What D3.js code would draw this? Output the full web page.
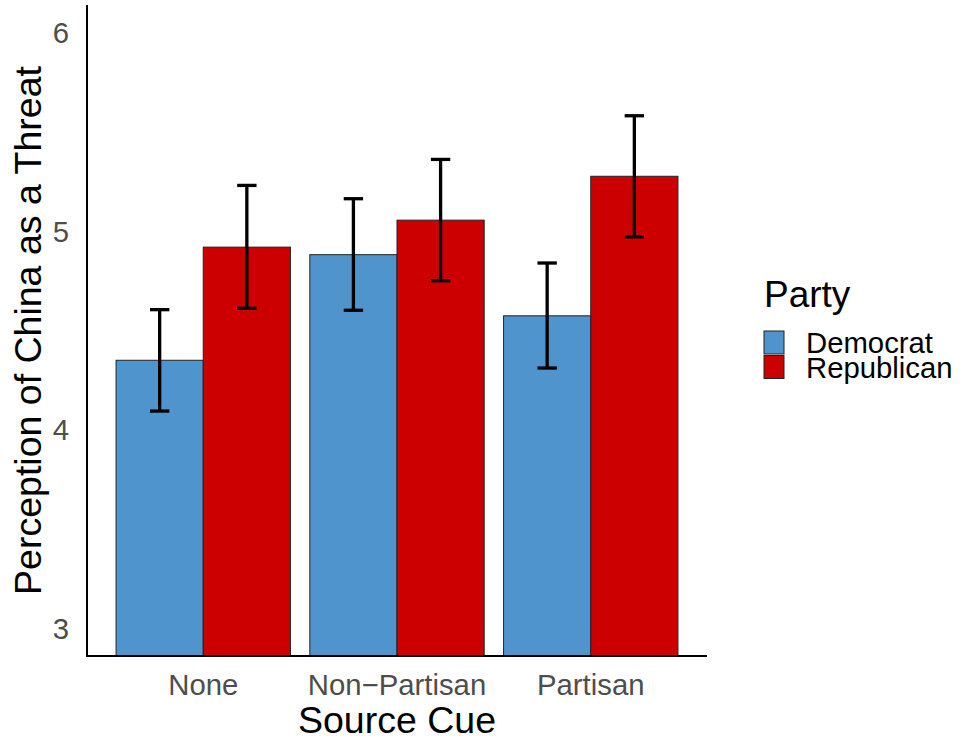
<!DOCTYPE html>
<html>
<head>
<meta charset="utf-8">
<script src="https://cdn.jsdelivr.net/npm/d3@7"></script>
<style>
  html, body { margin: 0; padding: 0; background: #fff; }
  svg { display: block; font-family: "Liberation Sans", Arial, sans-serif; }
</style>
</head>
<body>
<svg id="chart" width="961" height="742"></svg>
<script>
// ---- data ----
const categories = ["None", "Non\u2212Partisan", "Partisan"];
const parties = ["Democrat", "Republican"];
const democratMean = [4.354, 4.886, 4.578];
const republicanMean = [4.924, 5.060, 5.281];
const democratLow = [4.098, 4.606, 4.315];
const democratHigh = [4.609, 5.168, 4.844];
const republicanLow = [4.616, 4.755, 4.976];
const republicanHigh = [5.235, 5.366, 5.586];
const yTicks = [3, 4, 5, 6];

const colors = { Democrat: "#4F94CD", Republican: "#CD0000" };

const rows = [];
categories.forEach((c, i) => {
  rows.push({ cat: c, party: "Democrat", mean: democratMean[i], lo: democratLow[i], hi: democratHigh[i] });
  rows.push({ cat: c, party: "Republican", mean: republicanMean[i], lo: republicanLow[i], hi: republicanHigh[i] });
});

const svg = d3.select("#chart");
const pLeft = 87, pRight = 707, pTop = 5, pBottom = 656;

const x = d3.scaleBand().domain(categories).range([pLeft, pRight]).paddingInner(0.1).paddingOuter(0.15);
const xInner = d3.scaleBand().domain(parties).range([0, x.bandwidth()]).padding(0);
const y = d3.scaleLinear().domain([2.864, 6.144]).range([pBottom, pTop]);

// bars
svg.append("g").selectAll("rect").data(rows).join("rect")
  .attr("x", d => x(d.cat) + xInner(d.party))
  .attr("y", d => y(d.mean))
  .attr("width", xInner.bandwidth())
  .attr("height", d => pBottom - y(d.mean))
  .attr("fill", d => colors[d.party])
  .attr("stroke", "#222")
  .attr("stroke-width", 1);

// error bars
const capHalf = x.step() * 0.05;
const eb = svg.append("g").attr("stroke", "#000").attr("stroke-width", 3.3).attr("fill", "none");
rows.forEach(d => {
  const cx = x(d.cat) + xInner(d.party) + xInner.bandwidth() / 2;
  eb.append("line").attr("x1", cx).attr("x2", cx).attr("y1", y(d.hi)).attr("y2", y(d.lo));
  eb.append("line").attr("x1", cx - capHalf).attr("x2", cx + capHalf).attr("y1", y(d.hi)).attr("y2", y(d.hi));
  eb.append("line").attr("x1", cx - capHalf).attr("x2", cx + capHalf).attr("y1", y(d.lo)).attr("y2", y(d.lo));
});

// axes
const yAxis = svg.append("g").attr("transform", `translate(${pLeft},0)`)
  .call(d3.axisLeft(y).tickValues(yTicks).tickFormat(d3.format("d")).tickSize(0).tickPadding(18));
yAxis.select(".domain").remove();
yAxis.selectAll("text").attr("font-size", "29.3px").attr("fill", "#4D4D4D").attr("font-family", "Liberation Sans, Arial, sans-serif");

const xAxis = svg.append("g").attr("transform", `translate(0,${pBottom})`)
  .call(d3.axisBottom(x).tickSize(0).tickPadding(18));
xAxis.select(".domain").remove();
xAxis.selectAll("text").attr("font-size", "29.3px").attr("fill", "#4D4D4D").attr("font-family", "Liberation Sans, Arial, sans-serif");

svg.append("line").attr("x1", pLeft).attr("x2", pLeft).attr("y1", pTop).attr("y2", pBottom + 1)
  .attr("stroke", "#000").attr("stroke-width", 2);
svg.append("line").attr("x1", pLeft - 1).attr("x2", pRight).attr("y1", pBottom).attr("y2", pBottom)
  .attr("stroke", "#000").attr("stroke-width", 2);

// axis titles
svg.append("text").attr("x", (pLeft + pRight) / 2).attr("y", 733)
  .attr("text-anchor", "middle").attr("font-size", "37.5px").attr("fill", "#000").text("Source Cue");
svg.append("text").attr("transform", `translate(41,${(pTop + pBottom) / 2}) rotate(-90)`)
  .attr("text-anchor", "middle").attr("font-size", "37.5px").attr("fill", "#000").text("Perception of China as a Threat");

// legend
const lg = svg.append("g");
lg.append("text").attr("x", 764).attr("y", 307).attr("font-size", "37px").attr("fill", "#000").text("Party");
parties.forEach((p, i) => {
  const ky = 331 + i * 24.5;
  lg.append("rect").attr("x", 764).attr("y", ky).attr("width", 20).attr("height", 23)
    .attr("fill", colors[p]).attr("stroke", "#222").attr("stroke-width", 1);
  lg.append("text").attr("x", 806).attr("y", ky + 11.5).attr("dy", "0.36em")
    .attr("font-size", "29.3px").attr("fill", "#000").text(p);
});
</script>
</body>
</html>
